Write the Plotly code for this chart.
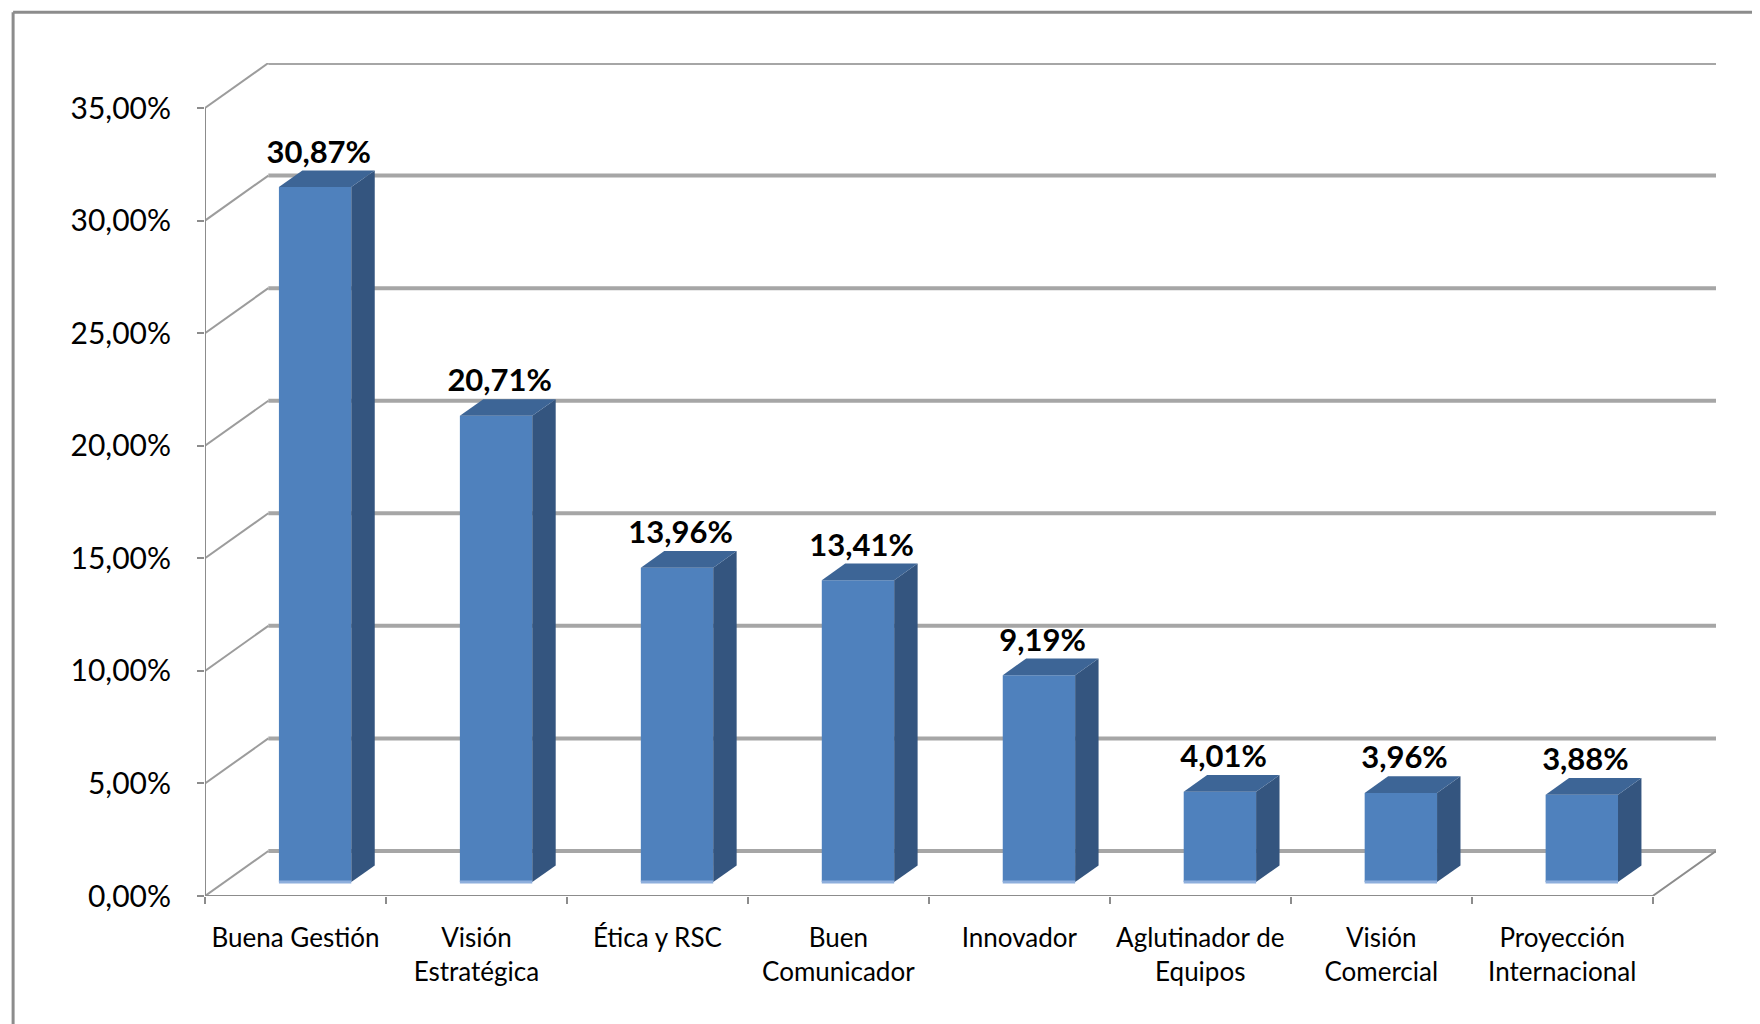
import plotly.graph_objects as go

# ---- data ----
categories = ["Buena Gestión", "Visión<br>Estratégica", "Ética y RSC", "Buen<br>Comunicador",
              "Innovador", "Aglutinador de<br>Equipos", "Visión<br>Comercial", "Proyección<br>Internacional"]
values = [30.87, 20.71, 13.96, 13.41, 9.19, 4.01, 3.96, 3.88]
value_labels = ["30,87%", "20,71%", "13,96%", "13,41%", "9,19%", "4,01%", "3,96%", "3,88%"]
y_ticks = [0, 5, 10, 15, 20, 25, 30, 35]
y_tick_labels = ["0,00%", "5,00%", "10,00%", "15,00%", "20,00%", "25,00%", "30,00%", "35,00%"]

# ---- pseudo-3D styling (depth vector in axis units) ----
DX, DY = 0.35, 2.0          # full depth offset
F0, F1 = 0.31, 0.68         # bar depth span (fraction of full depth)
HW = 0.20                   # half width of bar front face
FRONT = "#4F81BD"
SIDE = "#34557F"
TOP = "#3D6596"
GRID = "#A6A6A6"
AXIS = "#8C8C8C"
FONT = "Lato"

n = len(categories)
xs = list(range(n))
left, right = -0.5, n - 0.5

fig = go.Figure()

# back-wall gridlines and side-wall diagonals
gx_back, gy_back, gx_diag, gy_diag = [], [], [], []
for v in y_ticks:
    gx_back += [left + DX, right + DX, None]
    gy_back += [v + DY, v + DY, None]
    gx_diag += [left, left + DX, None]
    gy_diag += [v, v + DY, None]
fig.add_trace(go.Scatter(x=gx_back, y=gy_back, mode="lines",
                         line=dict(color=GRID, width=4), hoverinfo="skip", showlegend=False))
fig.add_trace(go.Scatter(x=gx_diag, y=gy_diag, mode="lines",
                         line=dict(color="#9C9C9C", width=2), hoverinfo="skip", showlegend=False))

# floor front edge, right diagonal, y axis line
fig.add_trace(go.Scatter(x=[left, right, right + DX], y=[0, 0, DY], mode="lines",
                         line=dict(color=AXIS, width=2), hoverinfo="skip", showlegend=False))
fig.add_trace(go.Scatter(x=[left, left], y=[0, y_ticks[-1]], mode="lines",
                         line=dict(color=AXIS, width=2), hoverinfo="skip", showlegend=False))

# bars
d_x = (F1 - F0) * DX
d_y = (F1 - F0) * DY
for i, v in zip(xs, values):
    x0 = i - HW + F0 * DX
    x1 = i + HW + F0 * DX
    y0 = F0 * DY
    y1 = v + F0 * DY
    # front face
    fig.add_trace(go.Scatter(x=[x0, x1, x1, x0, x0], y=[y0, y0, y1, y1, y0], mode="lines",
                             fill="toself", fillcolor=FRONT, line=dict(width=0),
                             hoverinfo="skip", showlegend=False))
    # side face
    fig.add_trace(go.Scatter(x=[x1, x1 + d_x, x1 + d_x, x1, x1],
                             y=[y0, y0 + d_y, y1 + d_y, y1, y0], mode="lines",
                             fill="toself", fillcolor=SIDE, line=dict(width=0),
                             hoverinfo="skip", showlegend=False))
    # top face
    fig.add_trace(go.Scatter(x=[x0, x1, x1 + d_x, x0 + d_x, x0],
                             y=[y1, y1, y1 + d_y, y1 + d_y, y1], mode="lines",
                             fill="toself", fillcolor=TOP, line=dict(width=0),
                             hoverinfo="skip", showlegend=False))
    # light bottom edge
    fig.add_trace(go.Scatter(x=[x0, x1], y=[y0, y0], mode="lines",
                             line=dict(color="#8DAEDC", width=3),
                             hoverinfo="skip", showlegend=False))

# value labels
fig.add_trace(go.Scatter(
    x=[i + F0 * DX + 0.02 for i in xs],
    y=[v + F1 * DY for v in values],
    mode="text", text=value_labels, textposition="top center",
    textfont=dict(family=FONT, size=31, color="black", weight="bold"),
    cliponaxis=False, hoverinfo="skip", showlegend=False))

fig.update_layout(
    width=1760, height=1024,
    margin=dict(l=197, r=52, t=55, b=136),
    paper_bgcolor="white", plot_bgcolor="rgba(0,0,0,0)",
    font=dict(family=FONT, color="black"),
    xaxis=dict(range=[left, right + DX], showgrid=False, zeroline=False, showline=False,
               tickmode="array", tickvals=xs, ticktext=categories, ticks="",
               tickfont=dict(family=FONT, size=26, color="black"),
               ticklabelstandoff=24,
               minor=dict(tickmode="array", tickvals=[b - 0.5 for b in range(n + 1)],
                          ticks="outside", ticklen=7, tickwidth=2, tickcolor=AXIS, showgrid=False)),
    yaxis=dict(range=[0, y_ticks[-1] + DY], showgrid=False, zeroline=False, showline=False,
               tickmode="array", tickvals=y_ticks, ticktext=y_tick_labels,
               ticks="outside", ticklen=7, tickwidth=2, tickcolor=AXIS,
               tickfont=dict(family=FONT, size=30, color="black"),
               ticklabelstandoff=20),
    shapes=[
        dict(type="line", xref="paper", yref="paper", x0=-0.127, x1=1.1, y0=1.0609, y1=1.0609,
             line=dict(color=AXIS, width=3)),
        dict(type="line", xref="paper", yref="paper", x0=-0.127, x1=-0.127, y0=-0.2, y1=1.0609,
             line=dict(color=AXIS, width=3)),
    ],
)

fig.write_html("out.html")
